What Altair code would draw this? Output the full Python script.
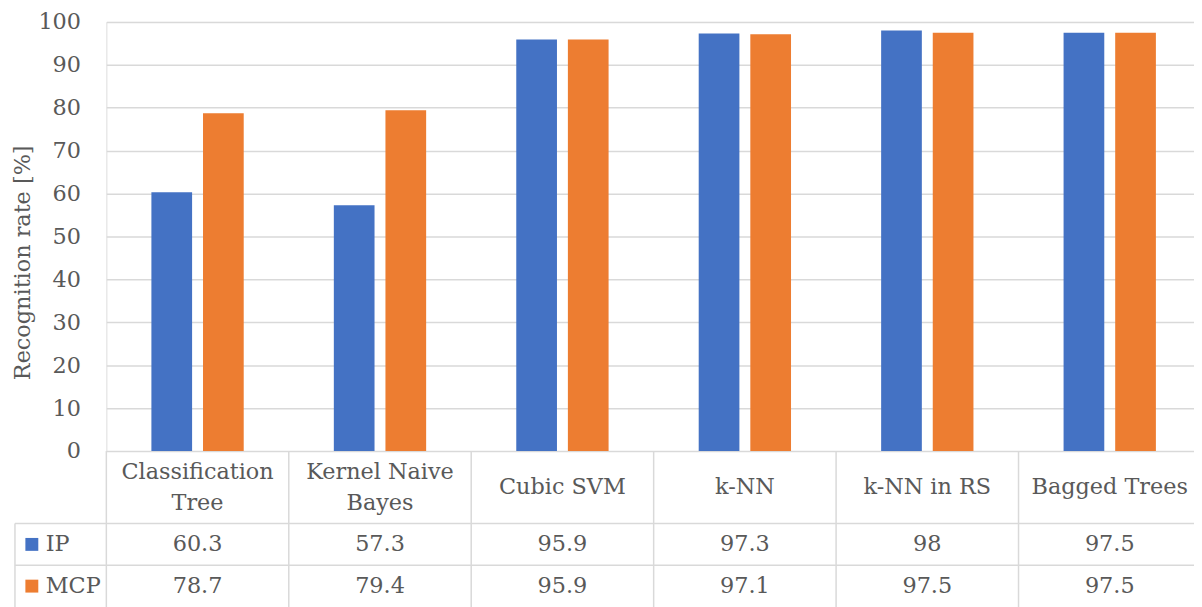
import altair as alt
import pandas as pd

categories = ["Classification Tree", "Kernel Naive Bayes", "Cubic SVM", "k-NN", "k-NN in RS", "Bagged Trees"]
headers = ["Classification\nTree", "Kernel Naive\nBayes", "Cubic SVM", "k-NN", "k-NN in RS", "Bagged Trees"]
series = ["IP", "MCP"]
ip_values = [60.3, 57.3, 95.9, 97.3, 98, 97.5]
mcp_values = [78.7, 79.4, 95.9, 97.1, 97.5, 97.5]
colors = ["#4472C4", "#ED7D31"]
y_ticks = list(range(0, 101, 10))

rows = []
for c, a, b in zip(categories, ip_values, mcp_values):
    rows.append({"cat": c, "series": "IP", "value": a, "label": f"{a:g}"})
    rows.append({"cat": c, "series": "MCP", "value": b, "label": f"{b:g}"})
df = pd.DataFrame(rows)
df_cats = pd.DataFrame({"cat": categories, "header": headers})
df_series = pd.DataFrame({"series": series})
one = pd.DataFrame({"k": [0]})

FONT = "DejaVu Serif"
FS = 22.5
TXT = "#595959"
GRID = "#d9d9d9"

W, H = 1095, 432
XRANGE = 1102
HDR = 73
ROW = 42
LH = 31

xscale = alt.Scale(domain=categories, range=[0, XRANGE], paddingInner=0, paddingOuter=0)
cscale = alt.Scale(domain=series, range=colors)

bars = alt.Chart(df).mark_bar().encode(
    x=alt.X("cat:N", scale=xscale, axis=None, sort=categories),
    xOffset=alt.XOffset("series:N", scale=alt.Scale(domain=series, paddingInner=0.2115, paddingOuter=0.873)),
    y=alt.Y("value:Q", scale=alt.Scale(domain=[0, 100], nice=False),
            axis=alt.Axis(values=y_ticks, grid=True, gridColor=GRID, gridWidth=1.5,
                          domain=False, ticks=False, labelPadding=26,
                          labelFont=FONT, labelFontSize=FS, labelColor=TXT,
                          title="Recognition rate [%]", titleFont=FONT, titleFontSize=FS,
                          titleColor=TXT, titleFontWeight="normal", titlePadding=3,
                          titleY=242)),
    color=alt.Color("series:N", scale=cscale, legend=None),
)

sep = alt.Chart(df_cats).mark_rule(color=GRID, strokeWidth=1.5).encode(
    x=alt.X("cat:N", scale=xscale, bandPosition=0, sort=categories),
    y=alt.value(H),
    y2=alt.value(H + HDR + 2 * ROW + 20),
)

left_line = alt.Chart(one).mark_rule(color=GRID, strokeWidth=1.5).encode(
    x=alt.value(-92), y=alt.value(H + HDR), y2=alt.value(H + HDR + 2 * ROW + 20)
)
hline1 = alt.Chart(one).mark_rule(color=GRID, strokeWidth=1.5).encode(
    x=alt.value(-92), x2=alt.value(XRANGE), y=alt.value(H + HDR)
)
hline2 = alt.Chart(one).mark_rule(color=GRID, strokeWidth=1.5).encode(
    x=alt.value(-92), x2=alt.value(XRANGE), y=alt.value(H + HDR + ROW)
)

def header_layer(multi, yc):
    cond = "indexof(datum.header, '\\n') >= 0" if multi else "indexof(datum.header, '\\n') < 0"
    return alt.Chart(df_cats).transform_filter(cond).mark_text(
        font=FONT, fontSize=FS, color=TXT, baseline="middle", align="center",
        lineBreak="\n", lineHeight=LH
    ).encode(
        x=alt.X("cat:N", scale=xscale, sort=categories),
        y=alt.value(yc),
        text="header:N",
    )

header_single = header_layer(False, H + HDR / 2)
header_multi = header_layer(True, H + HDR / 2 - LH / 2)

def row_layer(name, yc):
    return alt.Chart(df).transform_filter(alt.datum.series == name).mark_text(
        font=FONT, fontSize=FS, color=TXT, baseline="middle", align="center"
    ).encode(
        x=alt.X("cat:N", scale=xscale, sort=categories),
        y=alt.value(yc),
        text="label:N",
    )

ip_row = row_layer("IP", H + HDR + ROW / 2)
mcp_row = row_layer("MCP", H + HDR + ROW + ROW / 2)

def key_layers(name, yc):
    sq = alt.Chart(df_series).transform_filter(alt.datum.series == name).mark_square(
        size=169, opacity=1
    ).encode(
        x=alt.value(-75), y=alt.value(yc),
        color=alt.Color("series:N", scale=cscale, legend=None),
    )
    tx = alt.Chart(df_series).transform_filter(alt.datum.series == name).mark_text(
        font=FONT, fontSize=FS, color=TXT, baseline="middle", align="left"
    ).encode(
        x=alt.value(-61), y=alt.value(yc), text="series:N"
    )
    return sq + tx

keys_ip = key_layers("IP", H + HDR + ROW / 2)
keys_mcp = key_layers("MCP", H + HDR + ROW + ROW / 2)

chart = alt.layer(
    bars, sep, left_line, hline1, hline2, header_single, header_multi,
    ip_row, mcp_row, keys_ip, keys_mcp
).properties(
    width=W, height=H,
    autosize=alt.AutoSizeParams(type="none"),
    padding={"left": 99, "top": 12, "right": 0, "bottom": 155},
).configure_view(stroke=None).configure(background="white")

chart.save("out.html", embed_options={"renderer": "svg", "actions": False})
